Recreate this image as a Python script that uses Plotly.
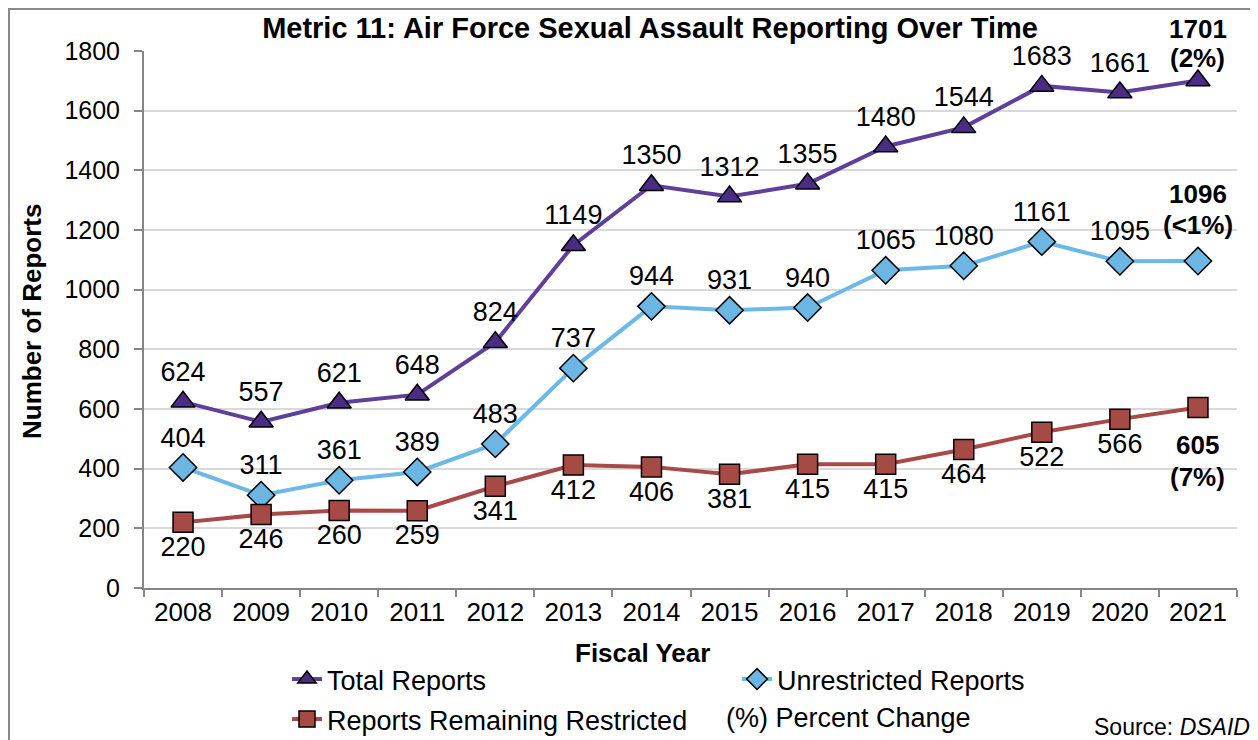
import plotly.graph_objects as go

years = ["2008", "2009", "2010", "2011", "2012", "2013", "2014", "2015", "2016", "2017", "2018", "2019", "2020", "2021"]
total = [624, 557, 621, 648, 824, 1149, 1350, 1312, 1355, 1480, 1544, 1683, 1661, 1701]
unrestricted = [404, 311, 361, 389, 483, 737, 944, 931, 940, 1065, 1080, 1161, 1095, 1096]
restricted = [220, 246, 260, 259, 341, 412, 406, 381, 415, 415, 464, 522, 566, 605]
pct_total, pct_unrestricted, pct_restricted = "2%", "<1%", "7%"

FONT = "Arial, Liberation Sans, sans-serif"
LBL = 27

def labels(vals):
    t = [str(v) for v in vals]
    t[-1] = ""
    return t

# page body has an 8px margin; work in reference pixels and shift
OFF = 8
W, H = 1258 - OFF, 740 - OFF
PL, PR, PT, PB = 144, 1237, 51, 588  # plot area in reference pixels
ML = PL - OFF
MT = PT - OFF
MR = W - (PR - OFF)
MB = H - (PB - OFF)
PW = W - ML - MR
PH = H - MT - MB

def px_x(p):
    return (p - OFF - ML) / PW

def px_y(p):
    return (H - MB - (p - OFF)) / PH

fig = go.Figure()
fig.add_trace(go.Scatter(
    x=years, y=total, name="Total Reports", mode="lines+markers+text",
    line=dict(color="#5f3f9a", width=4),
    marker=dict(symbol="triangle-up", size=21, color="#4b2c83", line=dict(color="black", width=1.5)),
    text=labels(total), textposition="top center", cliponaxis=False,
    textfont=dict(size=LBL, color="black", family=FONT), legend="legend"))
fig.add_trace(go.Scatter(
    x=years, y=unrestricted, name="Unrestricted Reports", mode="lines+markers+text",
    line=dict(color="#6cb8e6", width=4),
    marker=dict(symbol="diamond", size=21, color="#6cb6e4", line=dict(color="black", width=1.5)),
    text=labels(unrestricted), textposition="top center", cliponaxis=False,
    textfont=dict(size=LBL, color="black", family=FONT), legend="legend"))
fig.add_trace(go.Scatter(
    x=years, y=restricted, name="Reports Remaining Restricted", mode="lines+markers+text",
    line=dict(color="#a84b48", width=4),
    marker=dict(symbol="square", size=20, color="#a64a46", line=dict(color="black", width=1.5)),
    text=labels(restricted), textposition="bottom center", cliponaxis=False,
    textfont=dict(size=LBL, color="black", family=FONT), legend="legend2"))

# bold last-year labels with percent change
last_idx = len(years) - 1
for vals, pct, s1, s2 in [(total, pct_total, 52, 23), (unrestricted, pct_unrestricted, 67, 36),
                          (restricted, pct_restricted, -37, -69)]:
    for txt, sh in [(f"<b>{vals[-1]}</b>", s1), (f"<b>({pct})</b>", s2)]:
        fig.add_annotation(x=last_idx, y=vals[-1], xref="x", yref="y", text=txt, showarrow=False,
                           xanchor="center", yanchor="middle", yshift=sh,
                           font=dict(size=26, family=FONT, color="black"))

fig.update_layout(
    width=W, height=H,
    margin=dict(l=ML, r=MR, t=MT, b=MB, autoexpand=False),
    paper_bgcolor="white", plot_bgcolor="white",
    font=dict(family=FONT, color="black", size=22),
    title=dict(text="<b>Metric 11: Air Force Sexual Assault Reporting Over Time</b>",
               x=px_x(650), xref="paper", xanchor="center", y=1 - (28 - OFF) / H, yanchor="middle",
               font=dict(size=29, family=FONT, color="black")),
    xaxis=dict(type="category", range=[-0.5, 13.5], showgrid=False, automargin=False,
               showline=True, linecolor="#868686", linewidth=2,
               ticks="outside", tickson="boundaries", ticklen=7, tickcolor="#868686", tickwidth=2,
               tickfont=dict(size=26, family=FONT, color="black")),
    yaxis=dict(range=[0, 1800], dtick=200, showgrid=True, gridcolor="#d9d9d9", gridwidth=2, automargin=False,
               showline=True, linecolor="#868686", linewidth=2, zeroline=False,
               ticks="outside", ticklen=8, tickcolor="#868686", tickwidth=2, ticklabelstandoff=9,
               tickfont=dict(size=25, family=FONT, color="black")),
    legend=dict(orientation="h", x=px_x(287), y=px_y(655), xanchor="left", yanchor="top",
                entrywidth=405, entrywidthmode="pixels",
                font=dict(size=27, family=FONT, color="black"), bgcolor="rgba(0,0,0,0)"),
    legend2=dict(orientation="h", x=px_x(287), y=px_y(695), xanchor="left", yanchor="top",
                 font=dict(size=27, family=FONT, color="black"), bgcolor="rgba(0,0,0,0)"),
    showlegend=True,
)

fig.add_annotation(text="<b>Fiscal Year</b>", xref="paper", yref="paper",
                   x=px_x(642), y=px_y(653), xanchor="center", yanchor="middle", showarrow=False,
                   font=dict(size=26, family=FONT, color="black"))
fig.add_annotation(text="<b>Number of Reports</b>", xref="paper", yref="paper", textangle=-90,
                   x=px_x(32), y=px_y(322), xanchor="center", yanchor="middle", showarrow=False,
                   font=dict(size=26, family=FONT, color="black"))
fig.add_annotation(text="(%) Percent Change", xref="paper", yref="paper",
                   x=px_x(724), y=px_y(718), xanchor="left", yanchor="middle", showarrow=False,
                   font=dict(size=27, family=FONT, color="black"))
fig.add_annotation(text="Source: <i>DSAID</i>", xref="paper", yref="paper",
                   x=px_x(1252), y=px_y(727), xanchor="right", yanchor="middle", showarrow=False,
                   font=dict(size=23, family=FONT, color="black"))

fig.add_shape(type="rect", xref="paper", yref="paper",
              x0=px_x(9), x1=px_x(1255), y0=px_y(760), y1=px_y(9),
              line=dict(color="#898989", width=2), fillcolor="rgba(0,0,0,0)", layer="below")

fig.write_html("out.html")
